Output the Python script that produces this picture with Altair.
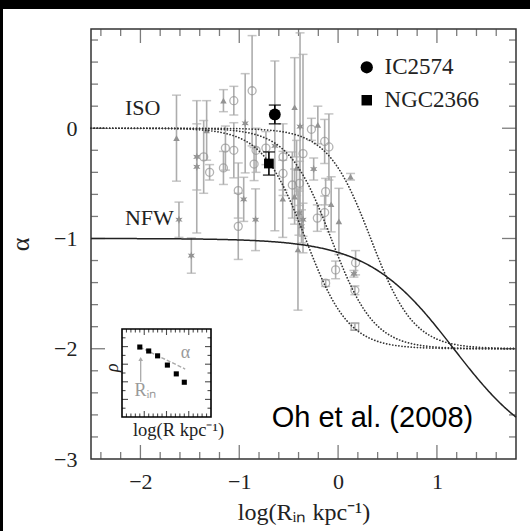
import altair as alt
import pandas as pd
import numpy as np

# ---------------- data ----------------
# gray literature points: log(R_in), alpha, error, marker kind
gx = [-1.635, -1.61, -1.485, -1.43, -1.43, -1.36, -1.30, -1.33, -1.16, -1.16, -1.14, -1.055,
      -1.055, -0.94, -1.01, -0.955, -1.01, -0.835, -0.87, -0.83, -0.85, -0.73, -0.64, -0.557,
      -0.557, -0.44, -0.385, -0.42, -0.463, -0.39, -0.44, -0.56, -0.27, -0.205, -0.136, -0.093,
      -0.247, -0.126, -0.136, -0.21, 0.008, 0.126, -0.396, -0.355, -0.37, -0.406, -0.07, -0.025,
      0.177, 0.16, 0.17, -0.126, 0.17, -0.355]
gy = [-0.09, -0.83, -1.155, -0.35, -0.26, -0.26, -0.40, -0.02, 0.25, -0.36, -0.18, 0.25,
      -0.20, 0.045, -0.565, -0.645, -0.89, -0.83, 0.34, -0.20, -0.325, -0.18, -0.16, -0.26,
      -0.41, 0.19, 0.015, -0.36, -0.515, -0.50, -0.62, -0.64, -0.01, 0.03, -0.12, -0.17,
      -0.37, -0.575, -0.765, -0.815, -0.845, -0.44, -0.77, -0.83, -0.89, -1.10, -0.69, -1.285,
      -1.22, -1.32, -1.47, -1.405, -1.80, -0.23]
gerr = [0.39, 0.16, 0.16, 0.60, 0.30, 0.33, 0.07, 0.27, 0.10, 0.15, 0.20, 0.13,
        0.25, 0.45, 0.25, 0.20, 0.30, 0.28, 0.50, 0.20, 0.15, 0.15, 0.77, 0.30,
        0.20, 0.45, 0.85, 0.25, 0.30, 0.20, 0.25, 0.35, 0.10, 0.17, 0.20, 0.30,
        0.10, 0.12, 0.15, 0.12, 0.30, 0.03, 0.20, 0.15, 0.15, 0.55, 0.25, 0.08,
        0.11, 0.03, 0.04, 0.03, 0.03, 0.90]
gkind = ["t", "s", "s", "s", "s", "o", "o", "t", "t", "o", "o", "o",
         "o", "s", "o", "s", "o", "s", "o", "o", "o", "o", "s", "o",
         "o", "t", "s", "t", "o", "o", "t", "t", "o", "t", "o", "o",
         "s", "o", "o", "o", "t", "t", "s", "s", "s", "t", "t", "o",
         "o", "s", "o", "o", "q", "o"]

# highlighted galaxies
bname = ["IC2574", "NGC2366"]
bx = [-0.64, -0.70]
by = [0.125, -0.32]
berr = [0.085, 0.105]
bshape = ["circle", "square"]

# model curves (parameters)
iso_log_rc = [-0.33, -0.07, 0.33]   # pseudo-isothermal core radii (log kpc)
nfw_log_rs = 1.17                   # NFW scale radius (log kpc)

# axes
X_DOMAIN = [-2.5, 1.8]
Y_DOMAIN = [-3.0, 0.9]
x_labels = [-2, -1, 0, 1]
y_labels = [-3, -2, -1, 0]
x_major = [-2, -1, 0, 1]
x_minor = [-2.4, -2.2, -1.8, -1.6, -1.4, -1.2, -0.8, -0.6, -0.4, -0.2,
           0.2, 0.4, 0.6, 0.8, 1.2, 1.4, 1.6]
y_major = [-2, -1, 0]
y_minor = [-2.8, -2.6, -2.4, -2.2, -1.8, -1.6, -1.4, -1.2, -0.8, -0.6, -0.4, -0.2,
           0.2, 0.4, 0.6, 0.8]

# inset (schematic density profile)
inset_sq_x = [2.0, 3.0, 4.0, 5.1, 6.1, 7.0]
inset_sq_y = [7.95, 7.5, 6.95, 5.9, 4.9, 3.95]
inset_line_x = [2.0, 7.1]
inset_line_y = [7.95, 5.45]
inset_x_major = [2.5, 5.0, 7.5]
inset_x_minor = [0.5, 1.0, 1.5, 2.0, 3.0, 3.5, 4.0, 4.5, 5.5, 6.0, 6.5, 7.0, 8.0, 8.5, 9.0, 9.5]
inset_y_major = [2, 4, 6, 8]
inset_y_minor = [1, 3, 5, 7, 9]

# ---------------- style ----------------
W, H = 425, 430
SERIF = "Liberation Serif"
SANS = "Liberation Sans"
INK = "#222222"
GRAY_BAR = "#adadad"
GRAY_PT = "#939393"

xs = alt.Scale(domain=X_DOMAIN, nice=False, zero=False)
ys = alt.Scale(domain=Y_DOMAIN, nice=False, zero=False)

x_axis = alt.Axis(values=x_labels, ticks=False, tickSize=0, domain=False, grid=False,
                  labelFont=SERIF, labelFontSize=22, labelColor=INK, labelPadding=12,
                  title="log(Rᵢₙ kpc⁻¹)", titleFont=SERIF, titleFontSize=24,
                  titleFontWeight="normal", titleColor=INK, titlePadding=8, zindex=1,
                  format="d")
y_axis = alt.Axis(values=y_labels, ticks=False, tickSize=0, domain=False, grid=False,
                  labelFont=SERIF, labelFontSize=22, labelColor=INK, labelPadding=14,
                  title="α", titleFont=SERIF, titleFontSize=26, titleFontWeight="normal",
                  titleColor=INK, titlePadding=20, zindex=1, format="d")


def X(f):
    return alt.X(f"{f}:Q", scale=xs, axis=x_axis)


def Y(f):
    return alt.Y(f"{f}:Q", scale=ys, axis=y_axis)


layers = []

# dark edge of the photographed page (top and left strips)
edge = alt.Chart(pd.DataFrame({"a": [0]}))
layers.append(edge.mark_rect(color="black").encode(
    x=alt.value(-91), x2=alt.value(439), y=alt.value(-29), y2=alt.value(-20)))
layers.append(edge.mark_rect(color="black").encode(
    x=alt.value(-91), x2=alt.value(-88), y=alt.value(-29), y2=alt.value(502)))

# frame
frame_df = pd.DataFrame({"x": [X_DOMAIN[0]], "x2": [X_DOMAIN[1]],
                         "y": [Y_DOMAIN[0]], "y2": [Y_DOMAIN[1]]})
layers.append(alt.Chart(frame_df).mark_rect(fillOpacity=0, stroke="#333333", strokeWidth=1.5)
              .encode(x=X("x"), x2="x2", y=Y("y"), y2="y2"))

# inner ticks on all four sides
TICK = "#444444"
for vals, L in [(x_major, 14), (x_minor, 7)]:
    for yv, off in [(Y_DOMAIN[0], -L / 2), (Y_DOMAIN[1], L / 2)]:
        d = pd.DataFrame({"x": vals, "y": [yv] * len(vals)})
        layers.append(alt.Chart(d).mark_tick(orient="vertical", size=L, thickness=1.3,
                                             yOffset=off, color=TICK)
                      .encode(x=X("x"), y=Y("y")))
for vals, L in [(y_major, 14), (y_minor, 7)]:
    for xv, off in [(X_DOMAIN[0], L / 2), (X_DOMAIN[1], -L / 2)]:
        d = pd.DataFrame({"y": vals, "x": [xv] * len(vals)})
        layers.append(alt.Chart(d).mark_tick(orient="horizontal", size=L, thickness=1.3,
                                             xOffset=off, color=TICK)
                      .encode(x=X("x"), y=Y("y")))

# gray points with error bars
gdf = pd.DataFrame({"x": gx, "y": gy, "err": gerr, "kind": gkind})
gbase = alt.Chart(gdf).transform_calculate(lo="datum.y - datum.err", hi="datum.y + datum.err")
layers.append(gbase.mark_rule(color=GRAY_BAR, strokeWidth=1.6).encode(x=X("x"), y=Y("lo"), y2="hi"))
layers.append(gbase.mark_tick(orient="horizontal", size=9, thickness=1.5, color=GRAY_BAR)
              .encode(x=X("x"), y=Y("lo")))
layers.append(gbase.mark_tick(orient="horizontal", size=9, thickness=1.5, color=GRAY_BAR)
              .encode(x=X("x"), y=Y("hi")))

STAR = ("M0,-1L0.23,-0.39L0.87,-0.5L0.45,0L0.87,0.5L0.23,0.39L0,1L-0.23,0.39"
        "L-0.87,0.5L-0.45,0L-0.87,-0.5L-0.23,-0.39Z")
layers.append(gbase.transform_filter("datum.kind == 'o'")
              .mark_point(shape="circle", size=64, filled=False, color=GRAY_PT, strokeWidth=1.3)
              .encode(x=X("x"), y=Y("y")))
layers.append(gbase.transform_filter("datum.kind == 'q'")
              .mark_point(shape="square", size=56, filled=False, color=GRAY_PT, strokeWidth=1.3)
              .encode(x=X("x"), y=Y("y")))
layers.append(gbase.transform_filter("datum.kind == 't'")
              .mark_point(shape="triangle-up", size=42, filled=True, color=GRAY_PT, opacity=1)
              .encode(x=X("x"), y=Y("y")))
layers.append(gbase.transform_filter("datum.kind == 's'")
              .mark_point(shape=STAR, size=70, filled=True, color=GRAY_PT, opacity=1)
              .encode(x=X("x"), y=Y("y")))

# model curves
lr = np.round(np.arange(X_DOMAIN[0], X_DOMAIN[1] + 0.001, 0.01), 3)
rows = []
for rc in iso_log_rc:
    u2 = 10 ** (2 * (lr - rc))
    for a, b in zip(lr, -2 * u2 / (1 + u2)):
        rows.append({"x": a, "y": b, "model": f"iso{rc}"})
iso_df = pd.DataFrame(rows)
u = 10 ** (lr - nfw_log_rs)
nfw_df = pd.DataFrame({"x": lr, "y": -(1 + 3 * u) / (1 + u)})

layers.append(alt.Chart(iso_df).mark_line(color="#333333", strokeWidth=1.7, strokeDash=[0.1, 3.0],
                                         strokeCap="round")
              .encode(x=X("x"), y=Y("y"), detail="model:N"))
layers.append(alt.Chart(nfw_df).mark_line(color="#222222", strokeWidth=1.5)
              .encode(x=X("x"), y=Y("y")))

# highlighted galaxies
bdf = pd.DataFrame({"x": bx, "y": by, "err": berr, "name": bname, "shape": bshape})
bbase = alt.Chart(bdf).transform_calculate(lo="datum.y - datum.err", hi="datum.y + datum.err")
layers.append(bbase.mark_rule(color="black", strokeWidth=1.6).encode(x=X("x"), y=Y("lo"), y2="hi"))
layers.append(bbase.mark_tick(orient="horizontal", size=12, thickness=1.6, color="black")
              .encode(x=X("x"), y=Y("lo")))
layers.append(bbase.mark_tick(orient="horizontal", size=12, thickness=1.6, color="black")
              .encode(x=X("x"), y=Y("hi")))
layers.append(bbase.transform_filter("datum.shape == 'circle'")
              .mark_point(shape="circle", size=140, filled=True, color="black", opacity=1)
              .encode(x=X("x"), y=Y("y")))
layers.append(bbase.transform_filter("datum.shape == 'square'")
              .mark_point(shape="square", size=95, filled=True, color="black", opacity=1)
              .encode(x=X("x"), y=Y("y")))

# legend (drawn inside the plot)
leg_df = pd.DataFrame({"x": [0.29, 0.29], "y": [0.553, 0.254], "tx": [0.47, 0.47],
                       "name": bname, "shape": bshape})
layers.append(alt.Chart(leg_df).transform_filter("datum.shape == 'circle'")
              .mark_point(shape="circle", size=150, filled=True, color="black", opacity=1)
              .encode(x=X("x"), y=Y("y")))
layers.append(alt.Chart(leg_df).transform_filter("datum.shape == 'square'")
              .mark_point(shape="square", size=110, filled=True, color="black", opacity=1)
              .encode(x=X("x"), y=Y("y")))
layers.append(alt.Chart(leg_df).mark_text(font=SERIF, fontSize=23, align="left", baseline="middle",
                                          color=INK)
              .encode(x=X("tx"), y=Y("y"), text="name:N"))

# curve labels
lab_df = pd.DataFrame({"x": [-2.157, -2.157], "y": [0.184, -0.816], "t": ["ISO", "NFW"]})
layers.append(alt.Chart(lab_df).mark_text(font=SERIF, fontSize=22, align="left", baseline="middle",
                                          color=INK)
              .encode(x=X("x"), y=Y("y"), text="t:N"))

# reference
ref_df = pd.DataFrame({"x": [-0.672], "y": [-2.708], "t": ["Oh et al. (2008)"]})
layers.append(alt.Chart(ref_df).mark_text(font=SANS, fontSize=29, align="left",
                                          baseline="alphabetic", color="black")
              .encode(x=X("x"), y=Y("y"), text="t:N"))

main = alt.layer(*layers)

# ---------------- inset ----------------
ixs = alt.Scale(domain=[0, 10], range=[31, 120], nice=False, zero=False)
iys = alt.Scale(domain=[0, 10], range=[388, 300], nice=False, zero=False)


def IX(f):
    return alt.X(f"{f}:Q", scale=ixs, axis=None)


def IY(f):
    return alt.Y(f"{f}:Q", scale=iys, axis=None)


ilayers = []
iframe = pd.DataFrame({"x": [0], "x2": [10], "y": [0], "y2": [10]})
ilayers.append(alt.Chart(iframe).mark_rect(fill="white", stroke="black", strokeWidth=1.6)
               .encode(x=IX("x"), x2="x2", y=IY("y"), y2="y2"))
for vals, L in [(inset_x_major, 6), (inset_x_minor, 3.5)]:
    for yv, off in [(0, -L / 2), (10, L / 2)]:
        d = pd.DataFrame({"x": vals, "y": [yv] * len(vals)})
        ilayers.append(alt.Chart(d).mark_tick(orient="vertical", size=L, thickness=1.1,
                                              yOffset=off, color="black")
                       .encode(x=IX("x"), y=IY("y")))
for vals, L in [(inset_y_major, 6), (inset_y_minor, 3.5)]:
    for xv, off in [(0, L / 2), (10, -L / 2)]:
        d = pd.DataFrame({"y": vals, "x": [xv] * len(vals)})
        ilayers.append(alt.Chart(d).mark_tick(orient="horizontal", size=L, thickness=1.1,
                                              xOffset=off, color="black")
                       .encode(x=IX("x"), y=IY("y")))

iline = pd.DataFrame({"x": inset_line_x, "y": inset_line_y})
ilayers.append(alt.Chart(iline).mark_line(color="#aaaaaa", strokeWidth=1.4, strokeDash=[4, 2])
               .encode(x=IX("x"), y=IY("y")))
isq = pd.DataFrame({"x": inset_sq_x, "y": inset_sq_y})
ilayers.append(alt.Chart(isq).mark_point(shape="square", size=26, filled=True, color="black",
                                         opacity=1)
               .encode(x=IX("x"), y=IY("y")))
arrow = pd.DataFrame({"x": [2.1], "y": [4.0], "y2": [6.6]})
ilayers.append(alt.Chart(arrow).mark_rule(color="#aaaaaa", strokeWidth=1.3)
               .encode(x=IX("x"), y=IY("y"), y2="y2"))
ilayers.append(alt.Chart(arrow).mark_point(shape="triangle-up", size=22, filled=True,
                                           color="#aaaaaa", opacity=1)
               .encode(x=IX("x"), y=IY("y2")))
itext = pd.DataFrame({"x": [6.6, 1.4], "y": [7.3, 3.0], "t": ["α", "Rᵢₙ"]})
ilayers.append(alt.Chart(itext).mark_text(font=SERIF, fontSize=18, align="left", baseline="middle",
                                          color="#9a9a9a")
               .encode(x=IX("x"), y=IY("y"), text="t:N"))
ilab = pd.DataFrame({"x": [6.35], "y": [-1.5], "t": ["log(R kpc⁻¹)"]})
ilayers.append(alt.Chart(ilab).mark_text(font=SERIF, fontSize=18.5, align="center", baseline="middle",
                                         color=INK)
               .encode(x=IX("x"), y=IY("y"), text="t:N"))
irho = pd.DataFrame({"x": [-1.0], "y": [5.6], "t": ["ρ"]})
ilayers.append(alt.Chart(irho).mark_text(font=SERIF, fontSize=18, fontStyle="italic", angle=270,
                                         align="center", baseline="middle", color=INK)
               .encode(x=IX("x"), y=IY("y"), text="t:N"))

inset = alt.layer(*ilayers)

chart = (alt.layer(main, inset)
         .resolve_scale(x="independent", y="independent")
         .properties(width=W, height=H, background="white",
                     padding={"left": 91, "top": 29, "right": 14, "bottom": 72},
                     autosize=alt.AutoSizeParams(type="none"))
         .configure_view(stroke=None))

chart.save("out.html", embed_options={"renderer": "svg", "actions": False})
